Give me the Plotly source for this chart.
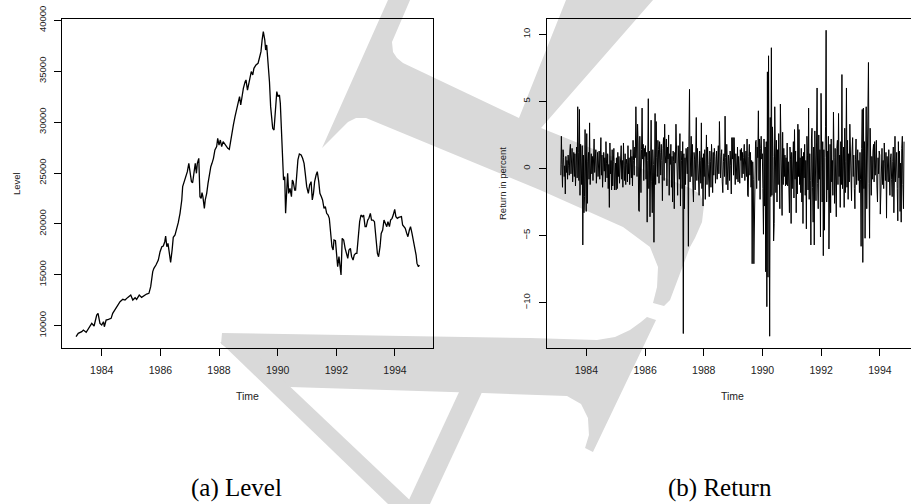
import numpy as np
import plotly.graph_objects as go

W, H = 911, 504

# ---------------- data ----------------
level_time = [
    1983.125, 1983.20, 1983.32, 1983.375, 1983.47, 1983.545, 1983.60, 1983.66, 1983.74, 1983.795,
    1983.83, 1983.875, 1983.91, 1983.94, 1984.00, 1984.06, 1984.09, 1984.15, 1984.23, 1984.32,
    1984.375, 1984.455, 1984.53, 1984.625, 1984.72, 1984.795, 1984.89, 1984.99, 1985.06, 1985.14,
    1985.19, 1985.28, 1985.36, 1985.44, 1985.53, 1985.61, 1985.67, 1985.74, 1985.78, 1985.85,
    1985.93, 1985.99, 1986.05, 1986.10, 1986.15, 1986.18, 1986.22, 1986.26, 1986.31, 1986.35,
    1986.40, 1986.44, 1986.50, 1986.56, 1986.61, 1986.67, 1986.73, 1986.76, 1986.81, 1986.85,
    1986.92, 1986.97, 1987.01, 1987.06, 1987.10, 1987.15, 1987.19, 1987.23, 1987.26, 1987.31,
    1987.33, 1987.35, 1987.39, 1987.42, 1987.45, 1987.50, 1987.53, 1987.58, 1987.625, 1987.67,
    1987.72, 1987.76, 1987.81, 1987.86, 1987.92, 1987.955, 1988.00, 1988.045, 1988.09, 1988.14,
    1988.18, 1988.24, 1988.30, 1988.35, 1988.40, 1988.45, 1988.49, 1988.545, 1988.60, 1988.66,
    1988.70, 1988.74, 1988.78, 1988.83, 1988.89, 1988.92, 1988.97, 1989.01, 1989.06, 1989.10,
    1989.15, 1989.19, 1989.26, 1989.33, 1989.375, 1989.43, 1989.47, 1989.51, 1989.56, 1989.59,
    1989.625, 1989.67, 1989.72, 1989.76, 1989.795, 1989.83, 1989.875, 1989.92, 1989.97, 1990.01,
    1990.06, 1990.09, 1990.14, 1990.17, 1990.20, 1990.24, 1990.27, 1990.31, 1990.34, 1990.375,
    1990.42, 1990.47, 1990.50, 1990.53, 1990.58, 1990.61, 1990.65, 1990.69, 1990.74, 1990.80,
    1990.85, 1990.90, 1990.94, 1990.99, 1991.045, 1991.09, 1991.14, 1991.18, 1991.22, 1991.26,
    1991.31, 1991.35, 1991.40, 1991.44, 1991.49, 1991.53, 1991.58, 1991.625, 1991.67, 1991.72,
    1991.76, 1991.81, 1991.85, 1991.89, 1991.92, 1991.97, 1992.00, 1992.045, 1992.09, 1992.125,
    1992.16, 1992.20, 1992.25, 1992.30, 1992.34, 1992.39, 1992.43, 1992.48, 1992.52, 1992.57,
    1992.61, 1992.66, 1992.70, 1992.75, 1992.795, 1992.84, 1992.89, 1992.93, 1992.98, 1993.02,
    1993.07, 1993.11, 1993.16, 1993.20, 1993.25, 1993.30, 1993.35, 1993.40, 1993.44, 1993.49,
    1993.53, 1993.58, 1993.625, 1993.67, 1993.72, 1993.76, 1993.81, 1993.85, 1993.90, 1993.94,
    1993.99, 1994.03, 1994.08, 1994.125, 1994.17, 1994.22, 1994.26, 1994.31, 1994.35, 1994.40,
    1994.44, 1994.49, 1994.53, 1994.58, 1994.625, 1994.67, 1994.72, 1994.75, 1994.80, 1994.83,
]
level_value = [
    8920, 9250, 9410, 9570, 9350, 9740, 10070, 10230, 9970, 10560,
    11050, 11210, 10560, 10230, 10070, 10390, 9900, 10560, 10620, 10720,
    11210, 11540, 11870, 12360, 12590, 12520, 12780, 13010, 12520, 12750,
    12590, 13010, 12780, 12950, 13110, 13180, 13830, 15310, 15630, 15960,
    16450, 17270, 17760, 17830, 18250, 18810, 17760, 18090, 17110, 16220,
    17430, 18680, 18910, 19560, 20120, 21040, 22350, 23660, 24150, 24640,
    25130, 25950, 24970, 24150, 24050, 25290, 25950, 24970, 25950, 26440,
    24970, 22670, 22510, 23070, 22670, 21530, 22350, 23000, 23980, 24970,
    25620, 25950, 26440, 27260, 27590, 28410, 27750, 28240, 27590, 28080,
    27910, 27590, 27420, 27320, 28240, 29390, 29720, 30530, 31350, 32170,
    32500, 31680, 32660, 33320, 33970, 34140, 33150, 33650, 34530, 34960,
    34630, 35280, 35610, 35770, 36270, 36920, 38070, 38890, 38070, 37080,
    37580, 36100, 33970, 31520, 30210, 29390, 29220, 31190, 32990, 32500,
    32660, 31840, 27910, 25950, 24310, 24640, 21040, 23330, 24970, 23000,
    23490, 22670, 24310, 24150, 23330, 23330, 24970, 26280, 26870, 26770,
    26440, 25950, 24970, 23660, 23000, 23820, 24150, 22350, 23000, 24150,
    24800, 25130, 24150, 23000, 22670, 22350, 21530, 21690, 21040, 20870,
    20550, 19070, 17760, 17430, 18420, 18350, 17270, 15800, 16780, 15470,
    14980, 18580, 18420, 17600, 17110, 16620, 17430, 17600, 16780, 16450,
    16940, 17110, 17110, 19070, 20220, 20870, 20710, 20870, 19730, 19730,
    20380, 20550, 21040, 20380, 20380, 20220, 18740, 17110, 16780, 17760,
    19070, 19400, 20380, 20050, 19730, 20220, 19730, 20380, 20550, 20870,
    21430, 20710, 20550, 20640, 20640, 20710, 19890, 19730, 19560, 19070,
    18740, 19400, 19730, 19070, 18420, 17930, 16940, 16120, 15800, 15960,
]

# weekly returns in percent, one list per calendar year (1983 starts in February)
ret_1983 = [-0.5, 2.4, 0.3, -1.4, 1.4, 0.8, -0.6, 0.2, -1.9, 0.9, -0.3, 0.6, -0.8, 1.0, 0.2,
            -0.5, 1.3, 1.8, -0.4, 0.7, 1.5, -1.0, 0.4, 1.2, -0.6, 1.1, -1.3, 0.9, 1.6, -0.7,
            4.6, 1.2, -0.9, 4.4, -2.0, 1.8, 0.5, -1.2, 1.7, -5.7, 1.0, -3.3, -2.1, 2.9, 0.8]
ret_1984 = [-3.2, 2.6, -2.6, 0.5, 1.2, -0.8, 3.4, -1.2, 0.6, 1.1, -0.4, 0.9, -0.9, 1.3, 2.2,
            -0.3, 0.7, 1.4, -1.1, 0.4, 1.2, -0.6, 0.9, 1.3, -0.8, 0.3, 2.3, -0.5, 1.0, -1.4,
            0.6, 1.2, -0.2, 0.8, -1.0, 2.0, 0.4, -0.7, 1.1, -1.5, 0.3, -2.9, 1.9, -0.4, 0.6,
            -1.6, 1.4, -1.3, 0.5, 1.5, -1.6, 0.2]
ret_1985 = [0.4, -1.6, 0.8, -1.5, 1.2, -0.6, 0.9, -1.1, 0.5, 1.3, 1.7, -0.8, 0.6, -1.4, 1.9,
            0.2, -0.9, 1.1, -1.2, 0.7, 0.3, -1.0, 1.7, -0.4, 0.8, -1.2, 0.5, 1.4, -0.7, 0.9,
            -1.3, 2.1, 0.6, -0.5, 1.6, 0.8, 4.6, 1.2, -0.6, 3.3, 1.9, -3.1, -3.2, 2.4, 0.9,
            -1.8, 1.4, 4.5, 0.7, 1.8, -0.9, 1.5]
ret_1986 = [0.9, 1.7, -0.8, 1.2, -4.0, 0.6, 5.2, -1.5, 1.3, -3.6, 0.8, 3.6, -1.0, -3.3, 1.4,
            0.3, -5.5, 2.2, 4.1, -1.2, 3.5, 0.8, -0.6, 2.1, 1.4, -1.1, 2.0, 1.2, -0.5, 1.8,
            0.6, -2.4, 1.5, 2.3, -0.9, 3.3, 1.0, 0.4, 2.2, -1.3, 1.6, 0.7, 2.5, -2.0, 1.1,
            0.3, 1.8, -1.4, 0.9, -2.5, 1.3, 0.5]
ret_1987 = [-3.0, 1.2, 0.4, 3.3, 1.0, -1.1, -2.0, 1.7, 0.5, -0.8, 2.6, -2.8, 1.3, 0.6, -1.5,
            2.0, -12.3, 1.1, -3.0, 0.8, -1.2, 1.5, 0.9, -0.4, 1.6, -5.8, 2.2, 5.9, -1.0, 1.4,
            2.4, -0.6, 1.8, -1.3, -2.5, 1.2, 0.7, -1.6, 2.1, 3.8, -0.9, 1.5, 0.4, -1.8, -2.0,
            1.3, 0.6, -1.1, 3.4, -1.5, 0.8, -2.8]
ret_1988 = [1.1, -0.6, 1.4, -2.3, 0.8, 2.5, -1.2, 1.6, 0.3, -0.9, -2.1, 1.3, 0.5, -1.4, 1.8,
            0.7, -1.8, 1.2, -0.5, 1.5, 0.9, -1.1, 0.4, 1.3, -0.8, 0.6, 1.7, -0.4, 3.5, 1.2,
            -0.7, 0.9, 1.4, -1.0, -1.8, 0.5, 1.1, -0.6, 3.9, 0.8, -1.2, 1.8, 0.4, -1.6, 1.0,
            0.6, -0.9, 1.3, 0.2, -1.9, 2.3, 0.7]
ret_1989 = [2.3, -0.5, 2.3, 0.8, -1.2, 1.1, 0.4, -0.8, 1.6, -1.0, 0.9, 0.3, -1.1, 1.4, 0.6,
            1.5, -0.7, 1.2, -0.4, 0.8, 1.8, -0.9, 0.5, 1.3, -0.6, 2.2, -2.0, -2.1, 0.9, 1.8,
            -0.5, 1.2, -1.4, 0.6, -7.1, 0.5, -0.8, -7.1, -2.3, 1.2, 2.0, 2.1, -1.5, 1.6, 0.8,
            4.3, -0.9, 2.2, -2.3, 1.5, 2.4, 0.7]
ret_1990 = [1.1, -1.5, -4.9, 2.2, -2.8, 1.6, -7.7, 2.0, -10.3, 7.2, -8.1, 8.4, -3.0, -12.5, 3.8,
            -2.1, 9.0, -2.0, 3.1, 0.9, -5.4, -4.1, 4.6, 1.2, -1.8, 2.1, -2.5, 1.4, -1.2, 2.6,
            -0.8, -3.0, 4.8, 0.6, -2.0, -3.5, 2.7, -1.2, 1.5, -0.6, 1.0, -1.3, 0.8, -1.2, 1.9,
            -1.3, 0.5, -0.9, -3.3, 1.6, 0.7, -4.1]
ret_1991 = [1.2, -1.5, 0.6, 2.0, -2.2, 2.9, -0.8, 1.3, -3.3, 0.5, -1.9, 3.3, -0.6, 2.9, -1.2,
            0.8, -1.8, 1.5, -2.5, 0.9, -4.1, 1.2, -0.7, 1.8, -2.0, 0.6, -4.5, 2.4, 1.0, -1.6,
            4.5, -2.3, 1.1, -0.9, -5.7, 2.2, 3.0, -1.4, -4.0, 1.6, -5.7, 2.8, 1.0, -2.4, 1.9,
            6.0, -1.1, -3.0, 2.5, -0.8, 1.4, -5.1]
ret_1992 = [5.6, 1.2, -2.5, 2.0, -6.5, 1.4, -4.6, 0.8, 3.1, 10.3, -2.5, 1.3, -1.6, 2.4, -6.0,
            0.9, 1.8, -3.3, 2.2, -1.0, 0.6, -2.0, 4.2, 0.8, -2.6, 1.5, -1.3, -3.6, 1.5, 2.1,
            -1.2, 4.1, -0.6, 1.0, -2.9, 2.0, -1.2, 7.0, -1.5, 0.8, 1.6, -2.9, 3.0, -1.8, 0.5,
            6.0, -1.4, 2.1, -2.3, 1.1, -1.0, 3.3]
ret_1993 = [0.8, -1.1, -2.4, 1.3, 2.3, -0.6, 1.0, -1.5, -3.0, 0.7, 2.2, -1.2, 0.5, 1.4, -0.9,
            0.6, -1.8, 1.2, -0.8, -5.8, 1.5, 4.4, -7.0, 4.5, -1.5, 2.0, -5.2, 4.4, 4.6, -3.0,
            1.2, 0.4, 7.9, -1.1, -5.2, 3.0, 1.1, -2.0, 0.9, -0.8, 1.3, 1.8, -1.0, 2.0, -0.5,
            0.7, 2.1, -1.3, -2.5, 0.8, -0.4, 1.3]
ret_1994 = [1.0, -3.4, -0.5, 0.8, 1.5, -1.2, 0.6, -1.5, 1.9, 0.4, -0.9, 1.2, -3.7, 0.9, -0.6,
            -1.0, 1.4, 0.3, -2.0, 0.7, 1.1, -0.8, -2.1, 0.5, 1.6, -3.3, 0.2, 2.4, -1.0, 0.6,
            1.2, -1.5, -3.9, 2.0, -0.7, 1.3, -3.2, 0.4, -4.0, 1.5, 2.4, -1.2, -3.0, 2.0]

returns = (ret_1983 + ret_1984 + ret_1985 + ret_1986 + ret_1987 + ret_1988 + ret_1989
           + ret_1990 + ret_1991 + ret_1992 + ret_1993 + ret_1994)
ret_start = 1983.13
ret_frequency = 52
ret_time = ret_start + np.arange(len(returns)) / ret_frequency

year_ticks = [1984, 1986, 1988, 1990, 1992, 1994]
level_ticks = [10000, 15000, 20000, 25000, 30000, 35000, 40000]
return_ticks = [-10, -5, 0, 5, 10]

# ---------------- background watermark outline (pixel positions) ----------------
WATERMARK = [
    [(388, 0), (410, 0), (392, 42), (393, 52), (397, 58), (403, 63), (519, 118), (566, 0),
     (653, 0), (541, 128), (690, 188), (700, 194), (704, 205), (702, 222), (695, 238),
     (690, 247), (670, 300), (664, 306), (653, 303), (657, 287), (658, 267), (650, 247),
     (623, 227), (540, 190), (366, 118), (356, 118), (348, 122), (338, 132), (322, 148)],
    [(222, 333), (530, 338), (597, 340), (615, 337), (630, 330), (641, 322), (647, 317),
     (656, 320), (593, 452), (585, 448), (589, 435), (588, 418), (581, 404), (567, 396),
     (483, 393), (290, 387), (221, 344)],
    [(220, 342), (243, 342), (414, 504), (388, 504)],
    [(460, 390), (483, 390), (430, 504), (407, 504)],
]


def px_path(pts):
    return "M " + " L ".join(f"{x / W:.4f},{1 - y / H:.4f}" for x, y in pts) + " Z"


shapes = [dict(type="path", xref="paper", yref="paper", path=px_path(p),
               fillcolor="#d9d9d9", line=dict(width=0), layer="below") for p in WATERMARK]

# ---------------- figure ----------------
fig = go.Figure()
fig.add_trace(go.Scatter(x=level_time, y=level_value, mode="lines",
                         line=dict(color="black", width=1.3),
                         xaxis="x", yaxis="y", showlegend=False, hoverinfo="skip"))
fig.add_trace(go.Scatter(x=ret_time, y=returns, mode="lines",
                         line=dict(color="black", width=1.0),
                         xaxis="x2", yaxis="y2", showlegend=False, hoverinfo="skip"))

tickfont = dict(family="Liberation Sans, Arial, sans-serif", size=10.5, color="#222")
ytickfont = dict(family="Liberation Sans, Arial, sans-serif", size=9.5, color="#222")
common = dict(showgrid=False, zeroline=False, showline=True, linecolor="black", linewidth=1,
              ticks="outside", ticklen=7, tickwidth=1, tickcolor="black")

ydom = [1 - 348.3 / H, 1 - 19 / H]
fig.update_layout(
    width=W, height=H,
    margin=dict(l=0, r=0, t=0, b=0, autoexpand=False),
    paper_bgcolor="white", plot_bgcolor="rgba(0,0,0,0)",
    showlegend=False,
    shapes=shapes,
    xaxis=dict(domain=[62 / W, 433 / W], range=[1982.646, 1995.296], anchor="y",
               tickvals=year_ticks, ticktext=[str(v) for v in year_ticks],
               tickfont=tickfont, mirror=True, ticklabelstandoff=5, **common),
    yaxis=dict(domain=ydom, range=[7780, 40128], anchor="x",
               tickvals=level_ticks, ticktext=[str(v) for v in level_ticks],
               tickfont=ytickfont, tickangle=-90, mirror=True,
               ticklabelstandoff=4, **common),
    xaxis2=dict(domain=[547 / W, 1.0], range=[1982.66, 1995.06], anchor="y2",
                tickvals=year_ticks, ticktext=[str(v) for v in year_ticks],
                tickfont=tickfont, mirror=True, ticklabelstandoff=5, **common),
    yaxis2=dict(domain=ydom, range=[-13.40, 11.14], anchor="x2",
                tickvals=return_ticks, ticktext=["\u221210", "\u22125", "0", "5", "10"],
                tickfont=ytickfont, tickangle=-90, mirror=False,
                ticklabelstandoff=5, **common),
)

lab = dict(family="Liberation Sans, Arial, sans-serif", size=10.5, color="#222")
rlab = dict(family="Liberation Sans, Arial, sans-serif", size=9.5, color="#222")
cap = dict(family="Liberation Serif, Times New Roman, serif", size=25, color="black")
ann = [
    dict(text="Time", x=247 / W, y=1 - 396 / H, font=lab),
    dict(text="Time", x=732 / W, y=1 - 396 / H, font=lab),
    dict(text="Level", x=16 / W, y=1 - 184 / H, font=rlab, textangle=-90),
    dict(text="Return in percent", x=502 / W, y=1 - 184 / H, font=rlab, textangle=-90),
    dict(text="(a) Level", x=236 / W, y=1 - 488 / H, font=cap),
    dict(text="(b) Return", x=720 / W, y=1 - 488 / H, font=cap),
]
for a in ann:
    a.update(xref="paper", yref="paper", showarrow=False, xanchor="center", yanchor="middle")
fig.update_layout(annotations=ann)

fig.write_html(
    "out.html",
    config={"displayModeBar": False},
    post_script="document.body.style.margin='0px';document.body.style.overflow='hidden';",
)
